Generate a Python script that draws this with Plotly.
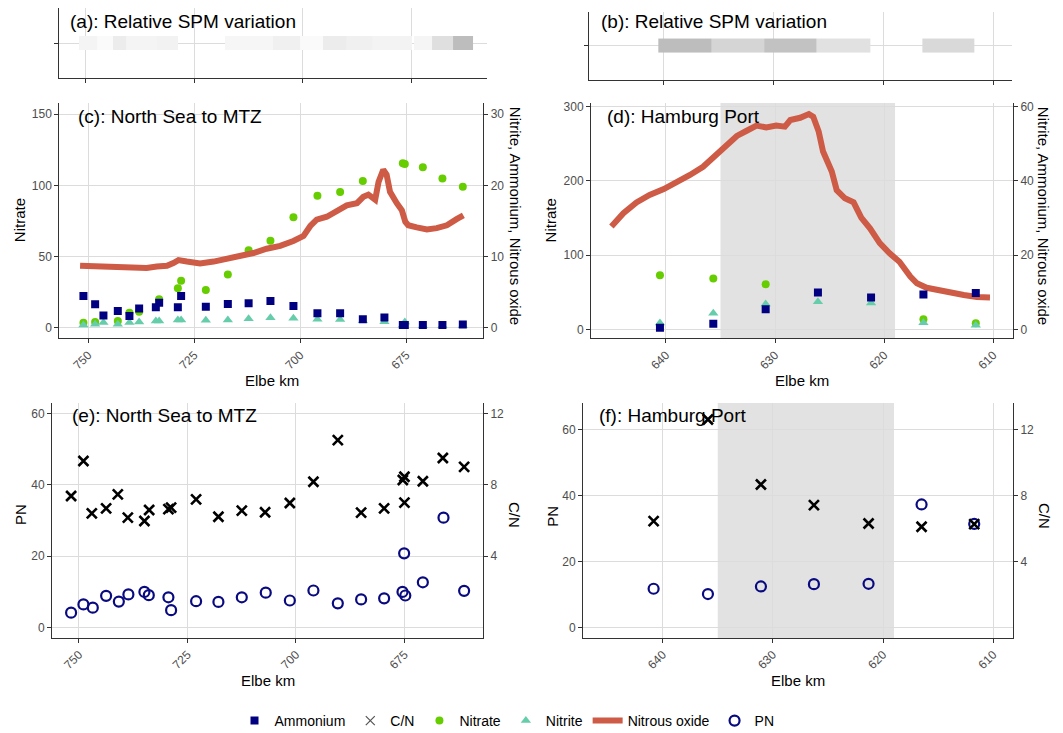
import plotly.graph_objects as go

# The page body has an 8 px default margin, so the figure is drawn 8 px smaller
# and all positions below are given in window pixels and shifted by OFF.
WIN_W, WIN_H = 1063, 733
OFF = 8
W, H = WIN_W - OFF, WIN_H - OFF
FONT = "Arial, Liberation Sans, sans-serif"

# ---------------- data ----------------
# (a) relative SPM variation, North Sea to MTZ (tile edges in Elbe km, relative value)
spm_a_edges = [751.61, 747.47, 743.78, 740.78, 733.64, 728.80, 717.97, 706.91, 700.69,
               695.39, 690.09, 684.10, 674.88, 674.42, 670.28, 665.44, 660.83]
spm_a_vals = [0.086, 0.039, 0.148, 0.086, 0.10, None, 0.07, 0.117, 0.039, 0.148,
              0.117, 0.094, None, 0.078, 0.25, 0.52]
# (b) relative SPM variation, Hamburg Port
spm_b_edges = [640.45, 635.6, 630.8, 626.05, 621.2, 616.45, 611.7]
spm_b_vals = [0.52, 0.33, 0.48, 0.24, None, 0.30]

# (c) North Sea to MTZ
c_nitrate_km = [751.11, 748.35, 743.0, 740.26, 737.97, 733.25, 728.84, 728.07, 722.24, 717.05,
                712.15, 707.0, 701.58, 695.92, 690.57, 685.21, 675.78, 675.31, 671.06, 666.44, 661.63]
c_nitrate = [3.5, 4.0, 4.7, 10.5, 11.3, 20, 27.7, 33, 26.5, 37.5,
             54.4, 61.2, 77.6, 92.8, 95.4, 103.1, 115.5, 115, 112.7, 104.8, 99.1]
c_station_km = [751.11, 748.35, 746.39, 743.0, 740.26, 737.97, 734.03, 733.25, 728.84, 728.07,
                722.24, 717.05, 712.15, 707.0, 701.58, 695.92, 690.57, 685.21, 680.12, 675.78,
                675.31, 671.06, 666.44, 661.63]
c_ammonium = [4.45, 3.3, 1.74, 2.35, 1.65, 2.7, 2.87, 3.5, 2.87, 4.45,
              2.95, 3.33, 3.45, 3.75, 3.05, 2.05, 2.05, 1.2, 1.45, 0.4,
              0.4, 0.4, 0.4, 0.47]
c_nitrite = [0.4, 0.5, 0.75, 0.5, 0.75, 0.8, 0.95, 0.95, 1.1, 1.1,
             1.05, 1.1, 1.25, 1.4, 1.35, 1.2, 1.15, 1.0, 0.85, 0.35,
             0.8, 0.3, 0.3, 0.3]
c_n2o_km = [751.9, 748.7, 745.6, 742.5, 739.3, 736.2, 733.8, 731.4, 729.9, 728.7, 726.7, 723.6,
            720.4, 717.3, 714.2, 711.0, 707.9, 704.7, 701.6, 699.2, 697.6, 696.1, 693.7, 691.3,
            689.0, 686.6, 685.1, 683.9, 682.3, 681.5, 680.4, 679.6, 678.8, 677.2, 676.0, 675.2,
            674.5, 672.5, 670.1, 667.8, 665.4, 663.0, 661.5]
c_n2o = [8.7, 8.6, 8.5, 8.4, 8.4, 8.4, 8.6, 8.7, 9.1, 9.5, 9.3, 9.05,
         9.3, 9.65, 10.0, 10.5, 11.1, 11.5, 12.2, 12.9, 14.3, 15.2, 15.6, 16.4,
         17.2, 17.5, 18.4, 18.7, 18.0, 20.5, 22.2, 21.5, 19.1, 17.5, 16.5, 14.9,
         14.4, 14.1, 13.8, 14.0, 14.4, 15.3, 15.8]

# (d) Hamburg Port
d_station_km = [640.55, 635.66, 630.86, 626.07, 621.2, 616.4, 611.6]
d_nitrate_km = [640.55, 635.66, 630.86, 616.4, 611.6]
d_nitrate = [72.7, 68.3, 60.6, 13.5, 8.1]
d_ammonium = [0.45, 1.5, 5.4, 9.9, 8.6, 9.4, 9.8]
d_nitrite = [1.7, 4.3, 6.8, 7.4, 7.1, 1.8, 1.1]
d_n2o_km = [645.0, 643.9, 642.7, 641.5, 640.2, 639.0, 637.8, 636.6, 635.7, 635.05, 634.4, 633.5,
            632.6, 631.7, 630.8, 629.9, 629.1, 628.6, 627.7, 626.9, 626.5, 626.0, 625.6, 624.8,
            624.35, 623.6, 622.8, 622.1, 621.3, 620.4, 619.5, 618.6, 617.6, 617.0, 616.1, 615.2,
            614.0, 612.7, 611.5, 610.3]
d_n2o = [27.7, 31.3, 34.2, 36.2, 37.8, 39.6, 41.6, 43.8, 46.3, 47.7, 49.7, 52.1,
         53.5, 54.9, 54.4, 54.9, 54.6, 56.4, 57.0, 58.0, 57.3, 53.3, 47.9, 42.5,
         37.5, 35.3, 34.2, 30.1, 27.2, 23.2, 20.5, 18.2, 14.2, 12.4, 11.2, 10.6,
         10.0, 9.25, 8.7, 8.6]

# (e) North Sea to MTZ: C/N and PN
e_cn_km = [751.8, 748.96, 747.03, 743.73, 741.04, 738.73, 734.91, 733.82, 729.38, 728.76,
           723.0, 717.86, 712.47, 707.1, 701.4, 695.97, 690.35, 684.98, 679.68, 675.37,
           675.0, 675.0, 670.76, 666.15, 661.25]
e_cn = [7.37, 9.33, 6.4, 6.68, 7.46, 6.16, 5.97, 6.59, 6.64, 6.72,
        7.18, 6.21, 6.55, 6.46, 6.98, 8.17, 10.5, 6.44, 6.68, 8.27,
        8.45, 7.0, 8.2, 9.5, 9.0]
e_pn_km = [751.8, 748.96, 746.8, 743.73, 740.8, 738.6, 734.91, 733.9, 729.38, 728.76,
           723.0, 717.86, 712.47, 706.95, 701.4, 695.97, 690.35, 684.98, 679.68, 675.45,
           675.07, 674.8, 670.76, 666.0, 661.25]
e_pn = [4.2, 6.5, 5.6, 8.9, 7.3, 9.3, 10.0, 9.1, 8.5, 4.9,
        7.4, 7.2, 8.5, 9.8, 7.6, 10.4, 6.8, 7.9, 8.2, 10.0,
        20.8, 9.0, 12.7, 30.8, 10.3]

# (f) Hamburg Port: C/N and PN
f_km = [640.82, 635.89, 631.08, 626.27, 621.31, 616.5, 611.72]
f_cn = [6.45, 12.6, 8.67, 7.42, 6.31, 6.11, 6.27]
f_pn = [11.8, 10.2, 12.5, 13.2, 13.3, 37.3, 31.4]

port_zone_km = [635, 619]

# ---------------- styling ----------------
NAVY = "#000080"
GREEN = "#66CD00"
TEAL = "#66CDAA"
RED = "#CD5B45"
GRID = "#dcdcdc"
AX = "#333333"
TICKF = dict(family=FONT, size=12, color="#4d4d4d")


def fx(px):
    return (px - OFF) / W


def fy(py):
    return 1 - (py - OFF) / H


def xax(dom, rng, tv, anchor, labels=True):
    return dict(domain=[fx(dom[0]), fx(dom[1])], range=rng, anchor=anchor, tickvals=tv,
                tickangle=-45, showticklabels=labels, ticks="outside", ticklen=4,
                tickcolor=AX, showline=True, linecolor=AX, linewidth=1, showgrid=True,
                gridcolor=GRID, gridwidth=1, zeroline=False, tickfont=TICKF, fixedrange=True,
                automargin=False)


def yax(dom, rng, tv, anchor, labels=True):
    return dict(domain=[fy(dom[1]), fy(dom[0])], range=rng, anchor=anchor, tickvals=tv,
                showticklabels=labels, ticks="outside", ticklen=4, tickcolor=AX,
                showline=True, linecolor=AX, linewidth=1, showgrid=True, gridcolor=GRID,
                gridwidth=1, zeroline=False, tickfont=TICKF, fixedrange=True,
                automargin=False)


def y2ax(over, anchor, rng, tv):
    return dict(overlaying=over, side="right", anchor=anchor, range=rng, tickvals=tv,
                ticks="outside", ticklen=4, tickcolor=AX, showline=True, linecolor=AX,
                linewidth=1, showgrid=False, zeroline=False, tickfont=TICKF, fixedrange=True,
                automargin=False)


fig = go.Figure()

GRAYS = [[0, "#ffffff"], [1, "#808080"]]
# (a), (b) SPM tiles
fig.add_trace(go.Heatmap(x=spm_a_edges, y=[-0.5, 0.5], z=[spm_a_vals], colorscale=GRAYS,
                         zmin=0, zmax=1, showscale=False, hoverinfo="skip",
                         xaxis="x", yaxis="y"))
fig.add_trace(go.Heatmap(x=spm_b_edges, y=[-0.5, 0.5], z=[spm_b_vals], colorscale=GRAYS,
                         zmin=0, zmax=1, showscale=False, hoverinfo="skip",
                         xaxis="x2", yaxis="y2"))

sq = dict(symbol="square", size=8, color=NAVY)
dot = dict(symbol="circle", size=8, color=GREEN)
tri = dict(symbol="triangle-up", size=9, color=TEAL)
xm = dict(symbol="x-thin", size=10, color="black", line=dict(width=2.6, color="black"))
oc = dict(symbol="circle-open", size=10, color="#0a0a80", line=dict(width=2.2))

# (c)
fig.add_trace(go.Scatter(x=c_n2o_km, y=c_n2o, mode="lines", line=dict(color=RED, width=6),
                         name="Nitrous oxide", legendrank=5, xaxis="x3", yaxis="y7"))
fig.add_trace(go.Scatter(x=c_nitrate_km, y=c_nitrate, mode="markers", marker=dot,
                         name="Nitrate", legendrank=3, xaxis="x3", yaxis="y3"))
fig.add_trace(go.Scatter(x=c_station_km, y=c_nitrite, mode="markers", marker=tri,
                         name="Nitrite", legendrank=4, xaxis="x3", yaxis="y7"))
fig.add_trace(go.Scatter(x=c_station_km, y=c_ammonium, mode="markers", marker=sq,
                         name="Ammonium", legendrank=1, xaxis="x3", yaxis="y7"))
# (d)
fig.add_trace(go.Scatter(x=d_n2o_km, y=d_n2o, mode="lines", line=dict(color=RED, width=6),
                         showlegend=False, xaxis="x4", yaxis="y8"))
fig.add_trace(go.Scatter(x=d_nitrate_km, y=d_nitrate, mode="markers", marker=dot,
                         showlegend=False, xaxis="x4", yaxis="y4"))
fig.add_trace(go.Scatter(x=d_station_km, y=d_nitrite, mode="markers", marker=tri,
                         showlegend=False, xaxis="x4", yaxis="y8"))
fig.add_trace(go.Scatter(x=d_station_km, y=d_ammonium, mode="markers", marker=sq,
                         showlegend=False, xaxis="x4", yaxis="y8"))
# (e)
fig.add_trace(go.Scatter(x=e_cn_km, y=e_cn, mode="markers", marker=xm,
                         showlegend=False, xaxis="x5", yaxis="y9"))
fig.add_trace(go.Scatter(x=e_pn_km, y=e_pn, mode="markers", marker=oc,
                         name="PN", legendrank=6, xaxis="x5", yaxis="y5"))
# (f)
fig.add_trace(go.Scatter(x=f_km, y=f_cn, mode="markers", marker=xm,
                         showlegend=False, xaxis="x6", yaxis="y10"))
fig.add_trace(go.Scatter(x=f_km, y=f_pn, mode="markers", marker=oc,
                         showlegend=False, xaxis="x6", yaxis="y6"))
# legend key for C/N (thin grey cross, as in the reference legend)
fig.add_trace(go.Scatter(x=[None], y=[None], mode="markers", name="C/N", legendrank=2,
                         marker=dict(symbol="x-thin", size=9, color="#555555",
                                     line=dict(width=1.2, color="#555555")),
                         xaxis="x5", yaxis="y9"))

km_ns = [750, 725, 700, 675]
km_hp = [640, 630, 620, 610]

layout = dict(
    width=W, height=H, margin=dict(l=0, r=0, t=0, b=0, autoexpand=False),
    paper_bgcolor="white", plot_bgcolor="white",
    font=dict(family=FONT, color="black"),
    xaxis=xax((59, 487), [756.22, 657.6], km_ns, "y", labels=False),
    yaxis=yax((8, 78), [-2.5, 2.5], [0], "x", labels=False),
    xaxis2=xax((589.3, 1011.7), [646.73, 608.3], km_hp, "y2", labels=False),
    yaxis2=yax((11.5, 80), [-2.38, 2.38], [0], "x2", labels=False),
    xaxis3=xax((59.3, 483.3), [756.8, 656.8], km_ns, "y3"),
    yaxis3=yax((103, 338.3), [-7.4, 157.9], [0, 50, 100, 150], "x3"),
    yaxis7=y2ax("y3", "x3", [-1.48, 31.58], [0, 10, 20, 30]),
    xaxis4=xax((591, 1013), [646.87, 608.19], km_hp, "y4"),
    yaxis4=yax((103, 338.3), [-12.1, 304.9], [0, 100, 200, 300], "x4"),
    yaxis8=y2ax("y4", "x4", [-2.42, 60.98], [0, 20, 40, 60]),
    xaxis5=xax((52, 483), [756.2, 656.9], km_ns, "y5"),
    yaxis5=yax((403, 638), [-2.9, 62.9], [0, 20, 40, 60], "x5"),
    yaxis9=y2ax("y5", "x5", [-0.58, 12.58], [4, 8, 12]),
    xaxis6=xax((583, 1013), [647.23, 608.2], km_hp, "y6"),
    yaxis6=yax((403, 638), [-3.1, 68.0], [0, 20, 40, 60], "x6"),
    yaxis10=y2ax("y6", "x6", [-0.62, 13.6], [4, 8, 12]),
    legend=dict(orientation="h", x=fx(507), xanchor="center", y=fy(721), yanchor="middle",
                font=dict(family=FONT, size=14, color="black"), bgcolor="rgba(0,0,0,0)",
                traceorder="normal"),
    showlegend=True,
)
fig.update_layout(**layout)

# Hamburg Port shaded zone (d) and (f)
for xr, yr in (("x4", "y4 domain"), ("x6", "y6 domain")):
    fig.add_shape(type="rect", xref=xr, yref=yr, x0=port_zone_km[0], x1=port_zone_km[1],
                  y0=0, y1=1, fillcolor="#e2e2e2", line=dict(width=0), layer="below")


def ann(text, px, py, size=15, angle=0, xanchor="center"):
    fig.add_annotation(text=text, x=fx(px), y=fy(py), xref="paper", yref="paper",
                       showarrow=False, textangle=angle, xanchor=xanchor, yanchor="middle",
                       font=dict(family=FONT, size=size, color="black"))


# panel labels
ann("(a): Relative SPM variation", 68, 21.7, size=19, xanchor="left")
ann("(b): Relative SPM variation", 599, 22, size=19, xanchor="left")
ann("(c): North Sea to MTZ", 76, 116.7, size=19, xanchor="left")
ann("(d): Hamburg Port", 605, 116.7, size=19, xanchor="left")
ann("(e): North Sea to MTZ", 70, 415, size=19, xanchor="left")
ann("(f): Hamburg Port", 597, 415, size=19, xanchor="left")

# axis titles
ann("Nitrate", 19.5, 220.7, angle=-90)
ann("Nitrite, Ammonium, Nitrous oxide", 515, 215.8, angle=90)
ann("Nitrate", 550.7, 220.7, angle=-90)
ann("Nitrite, Ammonium, Nitrous oxide", 1043, 215.8, angle=90)
ann("Elbe km", 271.7, 380.7)
ann("Elbe km", 801.7, 380.7)
ann("PN", 20, 515, angle=-90)
ann("C/N", 515, 515, angle=90)
ann("PN", 551.7, 516, angle=-90)
ann("C/N", 1045, 516, angle=90)
ann("Elbe km", 268.3, 680.7)
ann("Elbe km", 798.3, 680.7)

fig.write_html("out.html")
